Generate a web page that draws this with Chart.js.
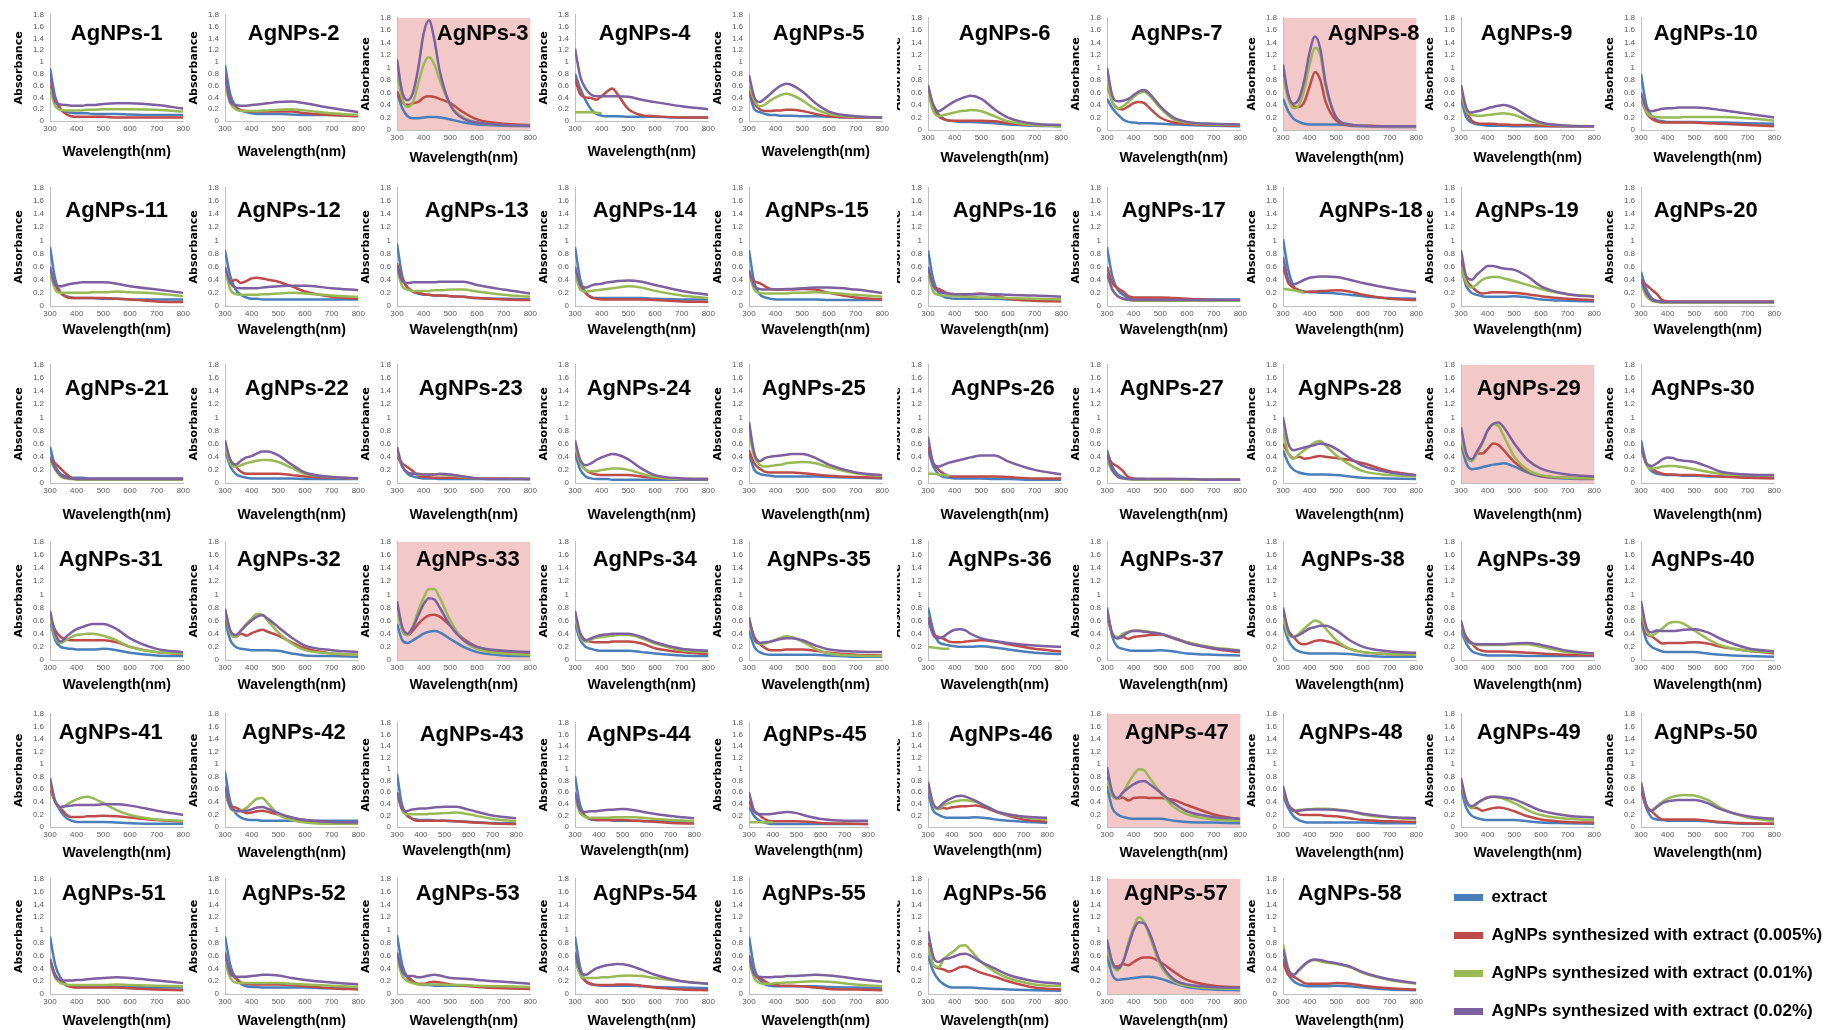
<!DOCTYPE html>
<html>
<head>
<meta charset="utf-8">
<title>UV-Vis spectra of AgNPs</title>
<script src="https://cdn.jsdelivr.net/npm/chart.js@4.4.1/dist/chart.umd.min.js"></script>
<style>
  html, body { margin: 0; padding: 0; background: #fff; width: 1831px; height: 1030px; overflow: hidden; }
  canvas { position: absolute; }
</style>
</head>
<body>
<script>
// ---- data ---------------------------------------------------------------
const wavelengths = [300, 320, 340, 360, 380, 400, 420, 440, 460, 500, 550, 600, 700, 800];
const xTickValues = [300, 400, 500, 600, 700, 800];
const xTickLabels = ['300', '400', '500', '600', '700', '800'];
const yTickValues = [0, 0.2, 0.4, 0.6, 0.8, 1, 1.2, 1.4, 1.6, 1.8];
const yTickLabels = ['0', '0.2', '0.4', '0.6', '0.8', '1', '1.2', '1.4', '1.6', '1.8'];
const sampleCount = 58;
const highlighted = [3, 8, 29, 33, 47, 57];
const seriesLabels = [
  'extract',
  'AgNPs synthesized with extract (0.005%)',
  'AgNPs synthesized with extract (0.01%)',
  'AgNPs synthesized with extract (0.02%)'
];

// absorbance of the plant extract alone
const extract = [
  [0.9,0.4,0.2,0.15,0.14,0.13,0.13,0.13,0.12,0.12,0.12,0.11,0.1,0.1],
  [0.95,0.45,0.25,0.18,0.15,0.13,0.12,0.12,0.12,0.12,0.11,0.1,0.1,0.09],
  [0.6,0.35,0.22,0.19,0.19,0.2,0.21,0.21,0.2,0.17,0.12,0.09,0.07,0.06],
  [0.8,0.55,0.35,0.2,0.12,0.09,0.08,0.08,0.08,0.07,0.07,0.07,0.06,0.06],
  [0.5,0.2,0.15,0.12,0.1,0.1,0.09,0.09,0.09,0.08,0.08,0.07,0.06,0.06],
  [0.6,0.4,0.25,0.18,0.15,0.14,0.13,0.13,0.13,0.12,0.11,0.09,0.07,0.06],
  [0.5,0.35,0.25,0.17,0.13,0.12,0.11,0.11,0.11,0.1,0.09,0.08,0.07,0.06],
  [0.5,0.3,0.18,0.13,0.1,0.09,0.09,0.09,0.09,0.09,0.07,0.06,0.05,0.05],
  [0.5,0.2,0.12,0.09,0.08,0.07,0.07,0.07,0.07,0.06,0.06,0.06,0.06,0.06],
  [0.9,0.4,0.22,0.16,0.14,0.13,0.13,0.13,0.13,0.13,0.12,0.12,0.11,0.1],
  [0.9,0.4,0.2,0.15,0.13,0.12,0.12,0.12,0.12,0.11,0.11,0.1,0.1,0.1],
  [0.85,0.45,0.25,0.17,0.13,0.11,0.11,0.1,0.1,0.1,0.1,0.1,0.1,0.1],
  [0.95,0.45,0.28,0.22,0.19,0.17,0.17,0.16,0.16,0.15,0.14,0.12,0.11,0.1],
  [0.9,0.4,0.2,0.14,0.12,0.12,0.12,0.12,0.12,0.12,0.12,0.11,0.1,0.1],
  [0.85,0.35,0.18,0.13,0.11,0.1,0.1,0.1,0.1,0.1,0.1,0.09,0.09,0.09],
  [0.85,0.4,0.2,0.14,0.12,0.11,0.11,0.11,0.11,0.11,0.11,0.1,0.1,0.1],
  [0.9,0.45,0.25,0.17,0.12,0.1,0.1,0.1,0.1,0.1,0.1,0.1,0.1,0.1],
  [1.02,0.55,0.3,0.24,0.22,0.21,0.21,0.2,0.2,0.19,0.17,0.15,0.12,0.11],
  [0.6,0.3,0.2,0.17,0.15,0.14,0.14,0.14,0.14,0.15,0.13,0.1,0.08,0.07],
  [0.52,0.25,0.12,0.08,0.07,0.06,0.06,0.06,0.06,0.06,0.06,0.06,0.06,0.06],
  [0.55,0.25,0.14,0.1,0.08,0.08,0.08,0.07,0.07,0.07,0.07,0.07,0.07,0.07],
  [0.5,0.25,0.14,0.1,0.08,0.07,0.07,0.07,0.07,0.07,0.07,0.06,0.06,0.06],
  [0.45,0.25,0.14,0.1,0.08,0.07,0.07,0.07,0.06,0.06,0.06,0.06,0.06,0.06],
  [0.45,0.2,0.1,0.07,0.06,0.06,0.06,0.05,0.05,0.05,0.05,0.05,0.05,0.05],
  [0.45,0.2,0.14,0.12,0.11,0.1,0.1,0.1,0.1,0.1,0.1,0.09,0.08,0.07],
  [0.5,0.25,0.13,0.09,0.08,0.07,0.07,0.07,0.07,0.07,0.06,0.06,0.05,0.05],
  [0.5,0.25,0.13,0.09,0.07,0.06,0.06,0.06,0.05,0.05,0.05,0.05,0.05,0.05],
  [0.5,0.3,0.2,0.16,0.14,0.13,0.13,0.13,0.13,0.12,0.1,0.08,0.07,0.06],
  [0.6,0.3,0.21,0.22,0.24,0.26,0.28,0.29,0.3,0.25,0.16,0.1,0.07,0.06],
  [0.65,0.3,0.18,0.14,0.13,0.12,0.12,0.12,0.11,0.11,0.1,0.1,0.09,0.09],
  [0.6,0.3,0.2,0.18,0.17,0.16,0.16,0.16,0.16,0.17,0.15,0.11,0.07,0.06],
  [0.6,0.3,0.2,0.17,0.16,0.15,0.15,0.15,0.15,0.14,0.1,0.07,0.06,0.05],
  [0.55,0.3,0.26,0.3,0.35,0.4,0.43,0.44,0.42,0.32,0.2,0.12,0.07,0.06],
  [0.55,0.3,0.2,0.17,0.15,0.14,0.14,0.14,0.14,0.14,0.12,0.1,0.07,0.06],
  [0.45,0.2,0.12,0.09,0.08,0.08,0.08,0.08,0.08,0.08,0.08,0.07,0.05,0.05],
  [0.8,0.45,0.27,0.24,0.22,0.21,0.2,0.2,0.2,0.21,0.19,0.16,0.11,0.09],
  [0.8,0.35,0.2,0.17,0.15,0.14,0.14,0.14,0.14,0.15,0.13,0.1,0.08,0.07],
  [0.55,0.3,0.18,0.13,0.11,0.1,0.1,0.1,0.1,0.1,0.09,0.07,0.05,0.05],
  [0.45,0.25,0.14,0.1,0.08,0.07,0.07,0.07,0.07,0.07,0.06,0.06,0.06,0.06],
  [0.6,0.3,0.2,0.16,0.13,0.12,0.12,0.12,0.12,0.12,0.1,0.08,0.06,0.05],
  [0.65,0.4,0.25,0.15,0.1,0.08,0.08,0.08,0.08,0.08,0.07,0.06,0.05,0.05],
  [0.88,0.4,0.22,0.15,0.12,0.11,0.11,0.1,0.1,0.1,0.1,0.1,0.1,0.1],
  [0.92,0.4,0.2,0.15,0.13,0.12,0.12,0.12,0.11,0.11,0.1,0.09,0.07,0.06],
  [0.88,0.4,0.2,0.14,0.12,0.12,0.12,0.12,0.11,0.11,0.11,0.1,0.1,0.09],
  [0.35,0.2,0.12,0.08,0.06,0.05,0.05,0.05,0.05,0.05,0.05,0.05,0.05,0.05],
  [0.6,0.3,0.22,0.18,0.16,0.16,0.16,0.16,0.16,0.17,0.15,0.12,0.09,0.07],
  [0.65,0.3,0.2,0.16,0.14,0.13,0.13,0.13,0.13,0.13,0.1,0.08,0.07,0.06],
  [0.5,0.3,0.17,0.11,0.08,0.07,0.07,0.07,0.07,0.07,0.07,0.07,0.06,0.06],
  [0.6,0.3,0.18,0.14,0.12,0.11,0.11,0.11,0.11,0.11,0.09,0.07,0.06,0.05],
  [0.6,0.3,0.15,0.12,0.11,0.1,0.1,0.1,0.1,0.1,0.09,0.07,0.05,0.05],
  [0.9,0.45,0.25,0.15,0.12,0.11,0.11,0.11,0.11,0.11,0.11,0.11,0.1,0.1],
  [0.9,0.45,0.25,0.16,0.12,0.11,0.11,0.1,0.1,0.1,0.1,0.1,0.09,0.09],
  [0.92,0.45,0.25,0.18,0.15,0.14,0.14,0.13,0.13,0.13,0.13,0.12,0.1,0.09],
  [0.9,0.4,0.2,0.15,0.14,0.13,0.13,0.13,0.13,0.13,0.12,0.11,0.1,0.09],
  [0.9,0.4,0.22,0.15,0.13,0.12,0.12,0.12,0.12,0.12,0.12,0.11,0.1,0.09],
  [0.6,0.35,0.22,0.15,0.11,0.1,0.1,0.1,0.1,0.09,0.08,0.07,0.06,0.05],
  [0.6,0.3,0.22,0.23,0.24,0.25,0.26,0.27,0.27,0.24,0.17,0.11,0.07,0.06],
  [0.55,0.3,0.2,0.15,0.13,0.12,0.12,0.12,0.12,0.13,0.12,0.1,0.07,0.06]
];

// AgNPs synthesized with 0.005% extract
const agnp005 = [
  [0.6,0.35,0.2,0.12,0.08,0.07,0.07,0.07,0.07,0.07,0.06,0.06,0.06,0.06],
  [0.7,0.35,0.22,0.18,0.17,0.16,0.16,0.16,0.16,0.16,0.16,0.13,0.1,0.08],
  [0.62,0.45,0.4,0.43,0.45,0.52,0.54,0.53,0.5,0.43,0.28,0.17,0.1,0.08],
  [0.72,0.45,0.4,0.39,0.36,0.42,0.5,0.55,0.45,0.2,0.1,0.08,0.06,0.06],
  [0.55,0.3,0.2,0.17,0.17,0.18,0.18,0.19,0.19,0.17,0.12,0.08,0.06,0.06],
  [0.65,0.35,0.22,0.17,0.15,0.15,0.15,0.15,0.15,0.15,0.14,0.11,0.08,0.07],
  [0.75,0.45,0.35,0.33,0.38,0.43,0.45,0.43,0.35,0.2,0.12,0.1,0.08,0.07],
  [0.95,0.55,0.38,0.37,0.45,0.7,0.93,0.8,0.45,0.15,0.08,0.07,0.06,0.06],
  [0.55,0.3,0.15,0.11,0.1,0.1,0.1,0.09,0.09,0.08,0.08,0.07,0.06,0.06],
  [0.5,0.28,0.18,0.14,0.12,0.12,0.12,0.12,0.12,0.12,0.11,0.1,0.08,0.06],
  [0.55,0.3,0.2,0.14,0.12,0.12,0.12,0.12,0.12,0.12,0.11,0.1,0.07,0.06],
  [0.55,0.37,0.4,0.35,0.38,0.42,0.43,0.42,0.4,0.37,0.3,0.22,0.14,0.11],
  [0.65,0.4,0.28,0.22,0.2,0.18,0.17,0.16,0.16,0.15,0.14,0.12,0.1,0.09],
  [0.55,0.3,0.2,0.13,0.11,0.1,0.1,0.1,0.1,0.1,0.1,0.09,0.07,0.06],
  [0.5,0.38,0.35,0.3,0.26,0.25,0.25,0.25,0.25,0.26,0.25,0.2,0.13,0.1],
  [0.55,0.3,0.26,0.22,0.18,0.17,0.17,0.17,0.18,0.19,0.16,0.11,0.08,0.07],
  [0.6,0.35,0.27,0.22,0.15,0.13,0.13,0.13,0.13,0.13,0.12,0.11,0.09,0.08],
  [0.6,0.35,0.28,0.24,0.21,0.22,0.22,0.23,0.23,0.24,0.22,0.17,0.11,0.09],
  [0.7,0.4,0.3,0.22,0.19,0.2,0.21,0.21,0.21,0.2,0.18,0.15,0.11,0.09],
  [0.4,0.32,0.25,0.18,0.09,0.07,0.07,0.07,0.07,0.07,0.07,0.07,0.07,0.07],
  [0.38,0.3,0.22,0.14,0.08,0.06,0.06,0.06,0.06,0.06,0.06,0.06,0.06,0.06],
  [0.55,0.35,0.25,0.17,0.14,0.14,0.14,0.14,0.14,0.14,0.12,0.1,0.08,0.07],
  [0.4,0.3,0.24,0.18,0.11,0.09,0.09,0.08,0.08,0.08,0.08,0.07,0.07,0.06],
  [0.5,0.3,0.2,0.15,0.13,0.12,0.12,0.12,0.12,0.12,0.1,0.08,0.06,0.06],
  [0.5,0.3,0.22,0.17,0.16,0.16,0.16,0.16,0.16,0.15,0.13,0.11,0.09,0.08],
  [0.55,0.3,0.2,0.14,0.1,0.1,0.1,0.1,0.1,0.1,0.1,0.09,0.07,0.07],
  [0.4,0.3,0.25,0.18,0.09,0.07,0.06,0.06,0.06,0.06,0.06,0.05,0.05,0.05],
  [0.6,0.45,0.38,0.4,0.37,0.38,0.4,0.41,0.4,0.38,0.35,0.3,0.18,0.12],
  [0.6,0.4,0.35,0.45,0.45,0.52,0.6,0.58,0.5,0.32,0.18,0.11,0.08,0.07],
  [0.55,0.3,0.22,0.17,0.14,0.13,0.13,0.12,0.12,0.12,0.11,0.1,0.08,0.07],
  [0.65,0.45,0.35,0.31,0.3,0.3,0.3,0.3,0.3,0.3,0.27,0.2,0.12,0.09],
  [0.7,0.4,0.35,0.4,0.37,0.41,0.44,0.46,0.43,0.37,0.27,0.18,0.1,0.08],
  [0.85,0.45,0.38,0.45,0.55,0.63,0.68,0.69,0.66,0.52,0.32,0.2,0.12,0.09],
  [0.6,0.4,0.3,0.28,0.27,0.27,0.27,0.28,0.28,0.28,0.25,0.18,0.12,0.09],
  [0.6,0.35,0.25,0.18,0.15,0.15,0.15,0.16,0.16,0.16,0.14,0.11,0.08,0.07],
  [0.65,0.4,0.35,0.32,0.28,0.27,0.27,0.28,0.29,0.3,0.28,0.24,0.17,0.13],
  [0.65,0.4,0.33,0.35,0.32,0.35,0.36,0.37,0.38,0.39,0.34,0.27,0.17,0.12],
  [0.7,0.45,0.35,0.26,0.24,0.26,0.29,0.3,0.29,0.25,0.17,0.12,0.09,0.08],
  [0.5,0.35,0.25,0.17,0.14,0.13,0.13,0.13,0.13,0.12,0.11,0.1,0.08,0.07],
  [0.7,0.4,0.36,0.3,0.25,0.26,0.26,0.26,0.26,0.27,0.25,0.2,0.14,0.1],
  [0.6,0.4,0.3,0.2,0.16,0.16,0.16,0.17,0.17,0.18,0.17,0.15,0.11,0.09],
  [0.55,0.33,0.31,0.26,0.22,0.23,0.25,0.26,0.24,0.2,0.15,0.11,0.08,0.07],
  [0.6,0.35,0.22,0.15,0.11,0.11,0.11,0.11,0.11,0.11,0.1,0.08,0.06,0.05],
  [0.55,0.3,0.2,0.15,0.13,0.12,0.12,0.12,0.12,0.12,0.11,0.1,0.07,0.06],
  [0.45,0.28,0.22,0.15,0.11,0.1,0.1,0.1,0.1,0.1,0.09,0.07,0.06,0.05],
  [0.7,0.4,0.31,0.33,0.32,0.34,0.35,0.36,0.36,0.37,0.32,0.24,0.13,0.09],
  [0.8,0.5,0.45,0.47,0.42,0.46,0.47,0.47,0.46,0.46,0.43,0.35,0.2,0.12],
  [0.55,0.35,0.27,0.2,0.19,0.19,0.19,0.19,0.18,0.17,0.14,0.11,0.09,0.08],
  [0.7,0.4,0.32,0.3,0.26,0.28,0.3,0.31,0.3,0.25,0.17,0.12,0.08,0.07],
  [0.6,0.32,0.25,0.17,0.12,0.12,0.12,0.12,0.12,0.12,0.1,0.08,0.06,0.05],
  [0.55,0.3,0.2,0.14,0.11,0.1,0.1,0.1,0.1,0.1,0.1,0.09,0.07,0.06],
  [0.6,0.35,0.25,0.18,0.16,0.15,0.15,0.15,0.15,0.15,0.14,0.12,0.09,0.07],
  [0.6,0.35,0.27,0.2,0.16,0.16,0.18,0.19,0.18,0.15,0.13,0.11,0.09,0.08],
  [0.55,0.3,0.2,0.16,0.14,0.14,0.14,0.14,0.15,0.15,0.13,0.1,0.07,0.06],
  [0.6,0.3,0.25,0.2,0.15,0.14,0.13,0.13,0.13,0.12,0.1,0.08,0.07,0.06],
  [0.8,0.45,0.4,0.38,0.35,0.38,0.42,0.43,0.4,0.33,0.27,0.2,0.1,0.07],
  [0.75,0.45,0.43,0.47,0.45,0.5,0.55,0.57,0.57,0.5,0.35,0.22,0.13,0.1],
  [0.5,0.3,0.27,0.22,0.17,0.16,0.16,0.16,0.16,0.17,0.16,0.13,0.09,0.07]
];

// AgNPs synthesized with 0.01% extract (short rows stop where the trace stops)
const agnp01 = [
  [0.55,0.25,0.19,0.18,0.18,0.18,0.18,0.19,0.19,0.2,0.2,0.2,0.19,0.16],
  [0.6,0.3,0.2,0.17,0.17,0.17,0.17,0.18,0.18,0.19,0.2,0.18,0.13,0.1],
  [0.9,0.5,0.37,0.45,0.75,1.05,1.17,1.05,0.8,0.4,0.2,0.12,0.08,0.07],
  [0.15,0.15,0.15,0.15,0.14,0.13],
  [0.6,0.35,0.25,0.28,0.35,0.4,0.44,0.46,0.44,0.35,0.2,0.12,0.07,0.06],
  [0.6,0.3,0.22,0.24,0.26,0.28,0.3,0.31,0.32,0.3,0.22,0.14,0.08,0.06],
  [0.8,0.45,0.35,0.38,0.45,0.53,0.59,0.61,0.55,0.35,0.17,0.12,0.09,0.08],
  [0.85,0.5,0.35,0.4,0.65,1.05,1.32,1.2,0.7,0.2,0.09,0.07,0.06,0.06],
  [0.6,0.3,0.24,0.23,0.23,0.24,0.25,0.26,0.27,0.24,0.16,0.1,0.07,0.06],
  [0.55,0.3,0.22,0.21,0.2,0.2,0.2,0.2,0.21,0.21,0.21,0.21,0.19,0.15],
  [0.5,0.25,0.2,0.2,0.2,0.2,0.2,0.2,0.21,0.21,0.22,0.21,0.19,0.15],
  [0.55,0.25,0.18,0.17,0.17,0.17,0.17,0.18,0.18,0.19,0.2,0.19,0.16,0.14],
  [0.55,0.3,0.25,0.23,0.23,0.23,0.23,0.24,0.24,0.25,0.25,0.22,0.17,0.14],
  [0.5,0.25,0.22,0.23,0.24,0.25,0.26,0.27,0.28,0.3,0.28,0.23,0.16,0.12],
  [0.5,0.25,0.2,0.19,0.19,0.19,0.19,0.19,0.2,0.2,0.21,0.2,0.17,0.14],
  [0.5,0.22,0.17,0.16,0.16,0.15,0.15,0.14,0.14,0.13,0.13,0.12,0.11,0.1],
  [0.5,0.25,0.15,0.11,0.09,0.08,0.08,0.08,0.08,0.08,0.08,0.08,0.08,0.08],
  [0.26,0.25,0.24,0.22,0.2],
  [0.6,0.35,0.28,0.33,0.4,0.43,0.44,0.44,0.42,0.38,0.32,0.26,0.18,0.15],
  [0.35,0.15,0.08,0.06,0.05,0.05,0.05,0.05,0.05,0.05,0.05,0.05,0.05,0.05],
  [0.35,0.2,0.1,0.07,0.06,0.05,0.05,0.05,0.05,0.05,0.05,0.05,0.05,0.05],
  [0.55,0.3,0.25,0.27,0.3,0.32,0.34,0.35,0.35,0.32,0.23,0.14,0.09,0.07],
  [0.5,0.25,0.16,0.14,0.13,0.13,0.13,0.13,0.13,0.12,0.09,0.07,0.06,0.06],
  [0.55,0.3,0.2,0.18,0.18,0.2,0.21,0.22,0.22,0.2,0.14,0.09,0.06,0.06],
  [0.75,0.4,0.28,0.25,0.26,0.27,0.28,0.3,0.31,0.32,0.3,0.24,0.15,0.11],
  [0.14,0.14,0.13,0.12,0.11],
  [0.35,0.18,0.1,0.07,0.06,0.05,0.05,0.05,0.05,0.05,0.05,0.05,0.05,0.05],
  [0.8,0.45,0.37,0.44,0.5,0.56,0.62,0.64,0.57,0.42,0.28,0.18,0.12,0.1],
  [0.65,0.4,0.33,0.45,0.6,0.8,0.9,0.87,0.72,0.4,0.2,0.12,0.08,0.07],
  [0.55,0.28,0.22,0.23,0.25,0.26,0.26,0.25,0.24,0.21,0.17,0.14,0.12,0.11],
  [0.65,0.35,0.26,0.3,0.35,0.38,0.39,0.4,0.4,0.37,0.3,0.2,0.12,0.1],
  [0.75,0.4,0.35,0.45,0.55,0.63,0.7,0.69,0.6,0.42,0.25,0.15,0.1,0.08],
  [0.75,0.45,0.38,0.52,0.75,0.95,1.08,1.08,0.95,0.6,0.3,0.17,0.1,0.08],
  [0.65,0.35,0.28,0.32,0.34,0.35,0.36,0.37,0.38,0.38,0.33,0.25,0.15,0.12],
  [0.6,0.3,0.25,0.25,0.28,0.31,0.34,0.36,0.35,0.28,0.17,0.1,0.07,0.06],
  [0.2,0.19,0.18,0.17,0.17],
  [0.7,0.4,0.35,0.4,0.43,0.45,0.45,0.44,0.43,0.4,0.33,0.27,0.19,0.15],
  [0.65,0.38,0.35,0.4,0.48,0.55,0.6,0.57,0.48,0.3,0.17,0.12,0.09,0.08],
  [0.55,0.3,0.25,0.23,0.23,0.23,0.23,0.23,0.23,0.24,0.24,0.2,0.12,0.09],
  [0.75,0.45,0.37,0.42,0.48,0.55,0.58,0.58,0.55,0.45,0.32,0.22,0.14,0.12],
  [0.7,0.4,0.31,0.35,0.4,0.44,0.47,0.48,0.46,0.38,0.27,0.19,0.12,0.1],
  [0.6,0.3,0.25,0.26,0.3,0.38,0.45,0.46,0.38,0.2,0.11,0.07,0.05,0.05],
  [0.6,0.3,0.22,0.22,0.22,0.22,0.22,0.23,0.23,0.24,0.25,0.22,0.14,0.1],
  [0.5,0.25,0.18,0.16,0.16,0.16,0.16,0.16,0.17,0.17,0.17,0.15,0.12,0.1],
  [0.08,0.08,0.08,0.08,0.08,0.08],
  [0.75,0.4,0.31,0.36,0.4,0.43,0.45,0.46,0.46,0.43,0.35,0.25,0.17,0.13],
  [0.75,0.5,0.45,0.55,0.7,0.83,0.92,0.9,0.78,0.55,0.32,0.2,0.12,0.1],
  [0.6,0.35,0.25,0.27,0.28,0.28,0.29,0.29,0.29,0.28,0.25,0.2,0.15,0.12],
  [0.7,0.4,0.3,0.37,0.43,0.47,0.48,0.47,0.45,0.38,0.27,0.19,0.13,0.11],
  [0.72,0.35,0.27,0.33,0.4,0.45,0.48,0.5,0.51,0.5,0.43,0.3,0.15,0.1],
  [0.5,0.25,0.17,0.15,0.14,0.14,0.14,0.14,0.14,0.14,0.15,0.14,0.13,0.12],
  [0.5,0.25,0.18,0.17,0.17,0.17,0.17,0.17,0.17,0.17,0.16,0.15,0.13,0.11],
  [0.55,0.28,0.2,0.17,0.15,0.15,0.15,0.15,0.15,0.14,0.14,0.13,0.12,0.11],
  [0.55,0.3,0.25,0.25,0.25,0.26,0.26,0.27,0.28,0.29,0.28,0.25,0.2,0.16],
  [0.5,0.25,0.17,0.16,0.16,0.17,0.17,0.18,0.18,0.19,0.2,0.19,0.15,0.12],
  [0.75,0.45,0.42,0.55,0.62,0.68,0.75,0.76,0.68,0.5,0.35,0.25,0.15,0.12],
  [0.7,0.45,0.37,0.5,0.8,1.05,1.2,1.12,0.9,0.45,0.2,0.13,0.09,0.08],
  [0.78,0.4,0.3,0.37,0.45,0.51,0.53,0.51,0.49,0.47,0.42,0.33,0.22,0.16]
];

// AgNPs synthesized with 0.02% extract
const agnp02 = [
  [0.8,0.32,0.28,0.27,0.26,0.26,0.26,0.27,0.27,0.29,0.3,0.3,0.27,0.21],
  [0.8,0.32,0.27,0.26,0.26,0.27,0.28,0.29,0.3,0.32,0.33,0.3,0.22,0.15],
  [1.13,0.6,0.48,0.6,1.0,1.55,1.76,1.45,0.95,0.4,0.18,0.12,0.08,0.07],
  [1.23,0.75,0.55,0.45,0.42,0.42,0.42,0.42,0.42,0.41,0.36,0.32,0.25,0.2],
  [0.78,0.4,0.32,0.38,0.46,0.54,0.6,0.63,0.61,0.5,0.3,0.16,0.08,0.06],
  [0.72,0.4,0.3,0.35,0.41,0.46,0.5,0.53,0.55,0.5,0.33,0.2,0.1,0.08],
  [1.0,0.55,0.46,0.47,0.5,0.56,0.62,0.64,0.58,0.38,0.2,0.13,0.1,0.09],
  [1.05,0.55,0.42,0.5,0.8,1.25,1.5,1.3,0.75,0.2,0.09,0.07,0.06,0.06],
  [0.72,0.35,0.28,0.3,0.32,0.35,0.37,0.39,0.4,0.35,0.22,0.12,0.07,0.06],
  [0.6,0.35,0.3,0.32,0.34,0.35,0.35,0.36,0.36,0.36,0.35,0.32,0.26,0.2],
  [0.6,0.32,0.3,0.32,0.34,0.35,0.36,0.36,0.36,0.36,0.34,0.3,0.25,0.2],
  [0.6,0.35,0.28,0.27,0.27,0.27,0.27,0.28,0.29,0.3,0.31,0.31,0.27,0.24],
  [0.6,0.38,0.35,0.36,0.36,0.36,0.36,0.36,0.37,0.37,0.37,0.32,0.25,0.19],
  [0.6,0.32,0.28,0.31,0.33,0.34,0.36,0.37,0.38,0.39,0.37,0.32,0.23,0.17],
  [0.55,0.3,0.26,0.25,0.25,0.25,0.25,0.26,0.26,0.27,0.28,0.28,0.25,0.2],
  [0.6,0.3,0.22,0.2,0.19,0.18,0.18,0.18,0.18,0.18,0.18,0.17,0.16,0.14],
  [0.5,0.25,0.15,0.11,0.1,0.09,0.09,0.09,0.09,0.09,0.09,0.09,0.09,0.09],
  [0.75,0.4,0.33,0.36,0.4,0.43,0.44,0.45,0.45,0.44,0.4,0.35,0.27,0.21],
  [0.85,0.45,0.4,0.48,0.55,0.61,0.61,0.59,0.57,0.55,0.45,0.3,0.18,0.14],
  [0.4,0.2,0.1,0.07,0.06,0.06,0.06,0.06,0.06,0.06,0.06,0.06,0.06,0.06],
  [0.4,0.22,0.12,0.08,0.07,0.06,0.06,0.06,0.06,0.06,0.06,0.06,0.06,0.06],
  [0.65,0.35,0.28,0.34,0.39,0.41,0.45,0.48,0.48,0.42,0.28,0.16,0.09,0.07],
  [0.55,0.25,0.16,0.14,0.14,0.13,0.13,0.13,0.14,0.13,0.1,0.07,0.06,0.06],
  [0.65,0.35,0.27,0.3,0.35,0.39,0.42,0.44,0.43,0.36,0.22,0.12,0.07,0.06],
  [0.93,0.45,0.33,0.38,0.4,0.41,0.42,0.43,0.44,0.44,0.38,0.28,0.16,0.12],
  [0.7,0.3,0.25,0.28,0.31,0.33,0.35,0.37,0.39,0.42,0.42,0.33,0.2,0.13],
  [0.45,0.2,0.1,0.07,0.06,0.06,0.06,0.06,0.06,0.06,0.06,0.06,0.05,0.05],
  [1.0,0.6,0.5,0.52,0.54,0.56,0.58,0.6,0.59,0.52,0.38,0.26,0.16,0.12],
  [0.85,0.45,0.36,0.48,0.62,0.8,0.9,0.92,0.85,0.6,0.35,0.22,0.13,0.1],
  [0.55,0.3,0.26,0.3,0.36,0.39,0.38,0.35,0.34,0.32,0.25,0.17,0.13,0.12],
  [0.75,0.4,0.28,0.35,0.42,0.47,0.5,0.53,0.55,0.55,0.47,0.33,0.17,0.12],
  [0.78,0.45,0.38,0.45,0.53,0.6,0.66,0.68,0.63,0.5,0.34,0.22,0.15,0.12],
  [0.9,0.5,0.4,0.5,0.68,0.85,0.94,0.92,0.8,0.52,0.3,0.2,0.14,0.12],
  [0.75,0.4,0.3,0.33,0.36,0.38,0.39,0.4,0.4,0.4,0.35,0.27,0.17,0.14],
  [0.65,0.32,0.26,0.27,0.28,0.3,0.32,0.33,0.33,0.3,0.22,0.16,0.13,0.12],
  [0.62,0.38,0.33,0.36,0.42,0.46,0.47,0.45,0.4,0.33,0.29,0.26,0.22,0.2],
  [0.75,0.4,0.33,0.37,0.42,0.44,0.44,0.43,0.42,0.4,0.33,0.26,0.18,0.14],
  [0.8,0.45,0.35,0.38,0.43,0.48,0.5,0.52,0.52,0.45,0.3,0.2,0.13,0.11],
  [0.6,0.32,0.26,0.24,0.24,0.24,0.24,0.24,0.24,0.25,0.26,0.23,0.14,0.1],
  [0.9,0.5,0.42,0.45,0.44,0.44,0.44,0.45,0.46,0.47,0.42,0.32,0.18,0.13],
  [0.78,0.4,0.32,0.33,0.34,0.35,0.35,0.35,0.35,0.36,0.36,0.34,0.26,0.19],
  [0.65,0.32,0.26,0.25,0.26,0.28,0.31,0.32,0.29,0.22,0.15,0.11,0.08,0.07],
  [0.6,0.32,0.27,0.3,0.31,0.32,0.32,0.33,0.34,0.35,0.35,0.3,0.2,0.15],
  [0.6,0.3,0.26,0.27,0.27,0.28,0.29,0.3,0.3,0.31,0.29,0.25,0.19,0.15],
  [0.6,0.3,0.22,0.22,0.22,0.23,0.24,0.25,0.26,0.24,0.18,0.14,0.11,0.11],
  [0.78,0.42,0.33,0.4,0.46,0.5,0.53,0.54,0.52,0.45,0.34,0.25,0.18,0.16],
  [0.95,0.55,0.46,0.55,0.62,0.68,0.72,0.73,0.68,0.55,0.38,0.25,0.16,0.13],
  [0.65,0.35,0.26,0.26,0.27,0.28,0.28,0.28,0.28,0.27,0.25,0.21,0.16,0.14],
  [0.78,0.42,0.33,0.38,0.43,0.47,0.48,0.48,0.47,0.44,0.35,0.26,0.18,0.15],
  [0.7,0.35,0.26,0.32,0.38,0.41,0.42,0.43,0.43,0.43,0.38,0.28,0.17,0.13],
  [0.55,0.27,0.22,0.21,0.21,0.22,0.22,0.23,0.24,0.25,0.26,0.25,0.21,0.17],
  [0.65,0.32,0.27,0.27,0.27,0.28,0.29,0.3,0.3,0.29,0.25,0.22,0.18,0.15],
  [0.65,0.35,0.28,0.28,0.26,0.27,0.29,0.3,0.29,0.25,0.24,0.22,0.19,0.16],
  [0.65,0.35,0.3,0.35,0.4,0.43,0.45,0.46,0.47,0.45,0.38,0.3,0.2,0.16],
  [0.6,0.3,0.27,0.26,0.26,0.27,0.27,0.28,0.28,0.29,0.3,0.29,0.24,0.19],
  [0.98,0.58,0.5,0.55,0.56,0.59,0.62,0.63,0.6,0.5,0.4,0.3,0.2,0.16],
  [0.85,0.5,0.4,0.5,0.75,1.0,1.12,1.1,0.95,0.5,0.23,0.15,0.11,0.1],
  [0.7,0.38,0.3,0.38,0.46,0.52,0.54,0.53,0.51,0.48,0.43,0.34,0.23,0.17]
];

// ---- layout -------------------------------------------------------------
const seriesData = [extract, agnp005, agnp01, agnp02];
const seriesColors = ['#4A7EBB', '#BE4B48', '#98B954', '#7D60A0'];
const shadeColor = '#F2C9C8';

const colLeft = [50, 225, 397, 575, 749, 928, 1107, 1283, 1461, 1641];
const plotWidth = 135;
const rowTop = [15, 185, 362, 539, 711, 876];        // pixel row of the 1.8 gridline
const rowBottom = [130, 306, 483, 660, 827, 994];    // pixel row of the zero line
const rowAxisTitle = [158, 330, 515, 685, 853, 1021];
const rowPanelTitle = [31, 208, 386, 557, 730, 891];
const titleShift = [0,2,19,3,3,10,3,24,-1,-2, 0,-3,13,3,1,10,0,21,-1,-2,
                    0,5,7,-3,-2,8,-2,0,1,-5, -6,-3,4,3,3,5,-2,3,1,-5,
                    -6,2,15,4,6,13,3,1,1,-2, -3,2,4,3,-2,0,2,0];

function panelFrame(n) {
  const r = Math.floor((n - 1) / 10), c = (n - 1) % 10;
  const f = { l: colLeft[c], w: plotWidth, t: rowTop[r], b: rowBottom[r],
              wl: rowAxisTitle[r], tt: rowPanelTitle[r], col: c };
  if ([1, 2, 4, 5].includes(n)) Object.assign(f, { t: 12, b: 121, wl: 152 });
  if ([43, 44, 45, 46].includes(n)) Object.assign(f, { t: 720, w: 121, wl: 851, tt: 732 });
  return f;
}

// ---- small plugins ------------------------------------------------------
const plotShade = {
  id: 'plotShade',
  beforeDraw(chart, args, opts) {
    if (!opts.color) return;
    const { ctx, chartArea: a } = chart;
    ctx.save();
    ctx.fillStyle = opts.color;
    ctx.fillRect(a.left, a.top, a.width, a.height);
    ctx.restore();
  }
};

const panelTitle = {
  id: 'panelTitle',
  afterDraw(chart, args, opts) {
    const { ctx, chartArea: a } = chart;
    ctx.save();
    ctx.font = 'bold 22px "Liberation Sans Narrow", "Arial Narrow", sans-serif';
    ctx.fillStyle = '#000';
    ctx.textAlign = 'center';
    ctx.textBaseline = 'middle';
    ctx.fillText(opts.text, (a.left + a.right) / 2 + opts.dx, a.top + opts.dy);
    ctx.restore();
  }
};

const tickFont = { family: '"Liberation Sans Narrow", "Arial Narrow", sans-serif', size: 8 };

function makePanel(n) {
  const f = panelFrame(n);
  const padL = 48, padT = 8, padR = 8;
  const top = f.t - padT;
  const cw = f.w + padL + padR;
  const ch = f.wl + 11 - top;
  const plotH = f.b - f.t;

  const cv = document.createElement('canvas');
  cv.width = cw; cv.height = ch;
  cv.style.left = (f.l - padL) + 'px';
  cv.style.top = top + 'px';
  cv.style.width = cw + 'px';
  cv.style.height = ch + 'px';
  if (f.col === 5) cv.style.clipPath = 'inset(0 0 0 17px)';
  document.body.appendChild(cv);

  const datasets = seriesData.map((series, k) => ({
    label: seriesLabels[k],
    data: wavelengths.map((w, j) => ({ x: w, y: series[n - 1][j] ?? null })),
    borderColor: seriesColors[k],
    backgroundColor: seriesColors[k],
    borderWidth: 2.5,
    pointRadius: 0,
    cubicInterpolationMode: 'monotone',
    spanGaps: false,
    fill: false,
    order: 3 - k
  }));

  new Chart(cv, {
    type: 'line',
    data: { datasets },
    options: {
      responsive: false,
      animation: false,
      devicePixelRatio: 1,
      events: [],
      layout: { padding: { left: 0, top: padT, right: padR, bottom: 0 } },
      scales: {
        x: {
          type: 'linear', min: 300, max: 800,
          afterBuildTicks: s => { s.ticks = xTickValues.map(v => ({ value: v })); },
          afterFit: s => { s.height = ch - padT - plotH; },
          ticks: { font: tickFont, color: '#595959', padding: 3, maxRotation: 0, autoSkip: false,
                   callback: (v, i) => xTickLabels[i] },
          grid: { display: false, drawTicks: false },
          border: { display: true, color: '#BFBFBF', width: 1 },
          title: { display: true, text: 'Wavelength(nm)', color: '#000',
                   font: { family: '"Liberation Sans", Arial, sans-serif', weight: 'bold', size: 14 },
                   padding: { top: 0, bottom: 2.6 } }
        },
        y: {
          min: 0, max: 1.8,
          afterBuildTicks: s => { s.ticks = yTickValues.map(v => ({ value: v })); },
          afterFit: s => { s.width = padL; },
          ticks: { font: tickFont, color: '#595959', padding: 6, autoSkip: false,
                   callback: (v, i) => yTickLabels[i] },
          grid: { display: false, drawTicks: false },
          border: { display: true, color: '#BFBFBF', width: 1 },
          title: { display: true, text: 'Absorbance', color: '#000',
                   font: { family: '"DejaVu Sans", Verdana, sans-serif', weight: 'bold', size: 11 },
                   padding: { top: 11, bottom: 0 } }
        }
      },
      plugins: {
        legend: { display: false },
        tooltip: { enabled: false },
        plotShade: { color: highlighted.includes(n) ? shadeColor : null },
        panelTitle: { text: 'AgNPs-' + n, dx: titleShift[n - 1], dy: f.tt - f.t }
      }
    },
    plugins: [plotShade, panelTitle]
  });
}

for (let n = 1; n <= sampleCount; n++) makePanel(n);

// ---- shared legend ------------------------------------------------------
(function makeLegend() {
  const cv = document.createElement('canvas');
  const cw = 398, ch = 220;
  cv.width = cw; cv.height = ch;
  cv.style.left = '1433px';
  cv.style.top = '868px';
  cv.style.width = cw + 'px';
  cv.style.height = ch + 'px';
  document.body.appendChild(cv);
  new Chart(cv, {
    type: 'line',
    data: {
      datasets: seriesLabels.map((label, k) => ({
        label, data: [], borderColor: seriesColors[k], backgroundColor: seriesColors[k]
      }))
    },
    options: {
      responsive: false,
      animation: false,
      devicePixelRatio: 1,
      events: [],
      scales: { x: { display: false }, y: { display: false } },
      plugins: {
        tooltip: { enabled: false },
        legend: {
          display: true,
          position: 'top',
          align: 'start',
          maxWidth: cw,
          maxHeight: ch,
          labels: {
            boxWidth: 29,
            boxHeight: 7,
            useBorderRadius: true,
            borderRadius: 3.5,
            padding: 21,
            color: '#000',
            font: { family: '"Liberation Sans", Arial, sans-serif', weight: 'bold', size: 17 },
            generateLabels: chart => chart.data.datasets.map((d, k) => ({
              text: d.label,
              fillStyle: d.borderColor,
              strokeStyle: d.borderColor,
              lineWidth: 0,
              hidden: false,
              datasetIndex: k,
              fontColor: '#000'
            }))
          }
        }
      }
    }
  });
})();
</script>
</body>
</html>
